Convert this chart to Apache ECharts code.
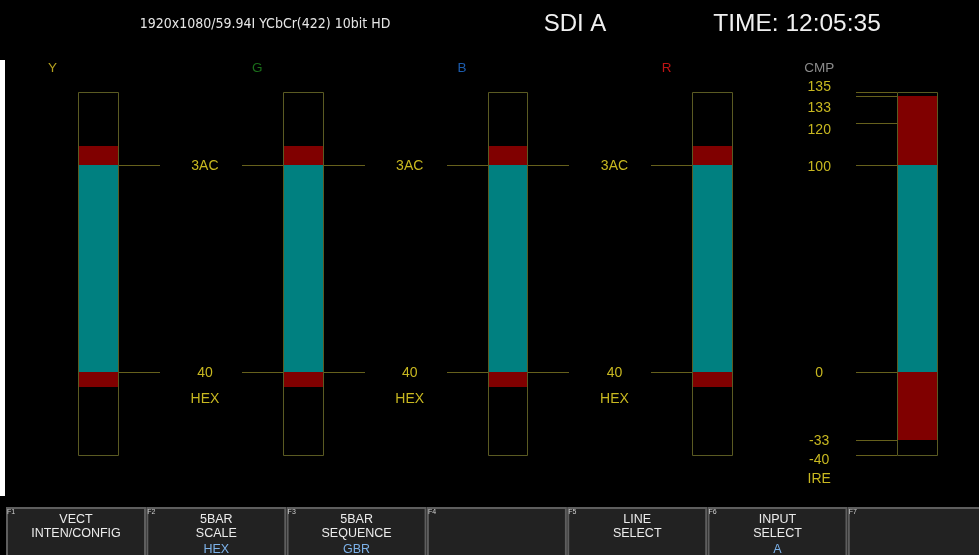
<!DOCTYPE html>
<html>
<head>
<meta charset="utf-8">
<script src="https://cdn.jsdelivr.net/npm/echarts@6/dist/echarts.min.js"></script>
<style>
html,body{margin:0;padding:0;background:#000;}
#chart{width:979px;height:555px;}
</style>
</head>
<body>
<div id="chart"></div>
<script>
// ---------- data ----------
const channels = ['Y', 'G', 'B', 'R', 'CMP'];
const overLow = [-7, -7, -7, -7, -33];      // red segment bottom
const legalLow = [0, 0, 0, 0, 0];           // cyan segment bottom
const legalHigh = [100, 100, 100, 100, 100];// cyan segment top
const overHigh = [109, 109, 109, 109, 133]; // red segment top
const axisMin = -40;
const axisMax = 135;
const hexTickValues = [100, 0];
const hexTickLabels = ['3AC', '40'];
const cmpTickValues = [135, 133, 120, 100, 0, -33, -40];
const cmpTickLabels = ['135', '133', '120', '100', '0', '-33', '-40'];
const scaleUnits = ['HEX', 'HEX', 'HEX', 'IRE'];
const headerFormat = '1920x1080/59.94I YCbCr(422) 10bit HD';
const headerInput = 'SDI A';
const headerTime = 'TIME: 12:05:35';
const menuKeys = ['F1', 'F2', 'F3', 'F4', 'F5', 'F6', 'F7'];
const menuLine1 = ['VECT', '5BAR', '5BAR', '', 'LINE', 'INPUT', ''];
const menuLine2 = ['INTEN/CONFIG', 'SCALE', 'SEQUENCE', '', 'SELECT', 'SELECT', ''];
const menuValue = ['', 'HEX', 'GBR', '', '', 'A', ''];

// ---------- style ----------
const BAR_W = 0.2;
const RED = '#800000';
const CYAN = '#008080';
const LINE_C = '#66601c';
const BOX_C = '#5a5a22';
const TXT_Y = '#c8b820';
const titleColors = ['#b4a01e', '#1a6e1a', '#1c5cae', '#c01414', '#8a8a8a'];
const cmpNudge = [-6, 10, 6, 1, 0, -1, 4];
const FONT = 'Liberation Sans, Arial, sans-serif';

// ---------- build series data ----------
const segData = [];
channels.forEach((c, i) => {
  segData.push([i, overLow[i], legalLow[i], 0]);
  segData.push([i, legalLow[i], legalHigh[i], 1]);
  segData.push([i, legalHigh[i], overHigh[i], 0]);
});
const boxData = channels.map((c, i) => [i, axisMin, axisMax]);
const tickData = [];
const labelData = [];
for (let g = 0; g < 3; g++) {
  hexTickValues.forEach((v, k) => {
    tickData.push([g, v, 1]);
    labelData.push([g, v, k, 0]);
  });
}
cmpTickValues.forEach((v, k) => {
  tickData.push([3, v, 0]);
  labelData.push([3, v, k, 1]);
});

const chart = echarts.init(document.getElementById('chart'), null, {renderer: 'canvas'});

const graphics = [
  {type: 'text', silent: true,
   style: {text: headerFormat, x: 265, y: 24, fill: '#e6e6e6', font: '14px Liberation Sans Narrow, DejaVu Sans Condensed, sans-serif', align: 'center', verticalAlign: 'middle'}},
  {type: 'text', silent: true,
   style: {text: headerInput, x: 575, y: 24, fill: '#f0f0f0', font: '24px Liberation Sans, sans-serif', align: 'center', verticalAlign: 'middle'}},
  {type: 'text', silent: true,
   style: {text: headerTime, x: 797, y: 24, fill: '#f0f0f0', font: '24.5px Liberation Sans, sans-serif', align: 'center', verticalAlign: 'middle'}},
  {type: 'rect', silent: true, shape: {x: 0, y: 60, width: 5, height: 436}, style: {fill: '#ffffff'}}
];
menuKeys.forEach((k, i) => {
  const x = 6 + i * 140.3;
  const w = i === 6 ? 979 - x + 2 : 139;
  const cx = x + 70;
  graphics.push({type: 'rect', silent: true, shape: {x: x + 1, y: 508, width: w - 1, height: 50},
    style: {fill: '#222222', stroke: '#5e5e5e', lineWidth: 2}});
  graphics.push({type: 'text', silent: true, style: {text: k, x: x + 1, y: 509, fill: '#cfcfcf', font: '7px Liberation Sans, sans-serif', align: 'left', verticalAlign: 'top'}});
  if (menuLine1[i]) graphics.push({type: 'text', silent: true, style: {text: menuLine1[i], x: cx, y: 519.5, fill: '#ececec', font: '12.5px Liberation Sans, sans-serif', align: 'center', verticalAlign: 'middle'}});
  if (menuLine2[i]) graphics.push({type: 'text', silent: true, style: {text: menuLine2[i], x: cx, y: 533.5, fill: '#ececec', font: '12.5px Liberation Sans, sans-serif', align: 'center', verticalAlign: 'middle'}});
  if (menuValue[i]) graphics.push({type: 'text', silent: true, style: {text: menuValue[i], x: cx, y: 549.5, fill: '#7cb2ea', font: '12.5px Liberation Sans, sans-serif', align: 'center', verticalAlign: 'middle'}});
});

const option = {
  backgroundColor: '#000000',
  animation: false,
  grid: {left: 78, right: 41, top: 92, bottom: 100},
  xAxis: {type: 'value', min: 0, max: 4 + BAR_W, show: false},
  yAxis: {type: 'value', min: axisMin, max: axisMax, show: false},
  graphic: graphics,
  series: [
    { // bar segments
      type: 'custom', clip: false, data: segData, z: 2,
      renderItem: function (params, api) {
        const x = api.value(0);
        const tl = api.coord([x, api.value(2)]);
        const br = api.coord([x + BAR_W, api.value(1)]);
        return {type: 'rect', shape: {x: Math.round(tl[0]), y: Math.round(tl[1]), width: Math.round(br[0]) - Math.round(tl[0]), height: Math.round(br[1]) - Math.round(tl[1])},
          style: {fill: api.value(3) === 1 ? CYAN : RED}};
      }
    },
    { // outline boxes
      type: 'custom', clip: false, data: boxData, z: 3,
      renderItem: function (params, api) {
        const x = api.value(0);
        const tl = api.coord([x, api.value(2)]);
        const br = api.coord([x + BAR_W, api.value(1)]);
        const x0 = Math.round(tl[0]) + 0.5, y0 = Math.round(tl[1]) + 0.5;
        const x1 = Math.round(br[0]) - 0.5, y1 = Math.round(br[1]) + 0.5;
        return {type: 'rect', shape: {x: x0, y: y0, width: x1 - x0, height: y1 - y0},
          style: {fill: null, stroke: BOX_C, lineWidth: 1}};
      }
    },
    { // tick lines
      type: 'custom', clip: false, data: tickData, z: 3,
      renderItem: function (params, api) {
        const g = api.value(0), v = api.value(1), both = api.value(2);
        const children = [];
        const y = Math.round(api.coord([0, v])[1]) + 0.5;
        const r0 = api.coord([g + 0.8, v])[0], r1 = api.coord([g + 1, v])[0];
        children.push({type: 'line', shape: {x1: Math.round(r0), y1: y, x2: Math.round(r1), y2: y}, style: {stroke: LINE_C, lineWidth: 1}});
        if (both === 1) {
          const l0 = api.coord([g + BAR_W, v])[0], l1 = api.coord([g + 0.4, v])[0];
          children.push({type: 'line', shape: {x1: Math.round(l0), y1: y, x2: Math.round(l1), y2: y}, style: {stroke: LINE_C, lineWidth: 1}});
        }
        return {type: 'group', children: children};
      }
    },
    { // scale labels
      type: 'custom', clip: false, data: labelData, z: 4,
      renderItem: function (params, api) {
        const g = api.value(0), v = api.value(1), k = api.value(2), isCmp = api.value(3) === 1;
        const p = api.coord([g + 0.62, v]);
        const txt = isCmp ? cmpTickLabels[k] : hexTickLabels[k];
        const dy = (isCmp ? cmpNudge[k] : 0) + 1.5;
        const children = [{type: 'text', style: {text: txt, x: p[0], y: p[1] + dy, fill: TXT_Y, font: '14px ' + FONT, align: 'center', verticalAlign: 'middle'}}];
        const lastIdx = isCmp ? cmpTickValues.length - 1 : hexTickValues.length - 1;
        if (k === lastIdx) {
          children.push({type: 'text', style: {text: scaleUnits[g], x: p[0], y: p[1] + (isCmp ? 24 : 27), fill: TXT_Y, font: '14px ' + FONT, align: 'center', verticalAlign: 'middle'}});
        }
        return {type: 'group', children: children};
      }
    },
    { // channel titles
      type: 'custom', clip: false, data: channels.map((c, i) => [i]), z: 4,
      renderItem: function (params, api) {
        const i = api.value(0);
        const xv = i === 4 ? 3.62 : i - 0.125;
        const p = api.coord([xv, axisMax]);
        return {type: 'text', style: {text: channels[i], x: p[0], y: p[1] - 24, fill: titleColors[i], font: '13.5px ' + FONT, align: 'center', verticalAlign: 'middle'}};
      }
    }
  ]
};
chart.setOption(option);
</script>
</body>
</html>
